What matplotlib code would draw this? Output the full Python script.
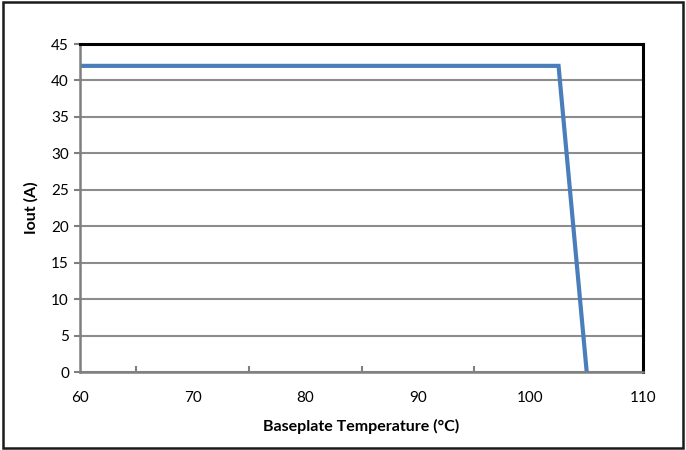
import matplotlib
matplotlib.use("Agg")
import matplotlib.pyplot as plt
from matplotlib.patches import Rectangle

# data
temp = [60, 102.5, 105]
iout = [42, 42, 0]
xticks = [60, 70, 80, 90, 100, 110]
yticks = [0, 5, 10, 15, 20, 25, 30, 35, 40, 45]

plt.rcParams['font.family'] = ['Lato', 'DejaVu Sans']

fig = plt.figure(figsize=(6.86, 4.5), dpi=100)
ax = fig.add_axes([80 / 686, 1 - 372 / 450, 563 / 686, 328 / 450])

# outer chart border
fig.patches.append(Rectangle((0.004, 0.005), 0.992, 0.99, transform=fig.transFigure,
                             fill=False, edgecolor='#1a1a1a', linewidth=1.8))

ax.set_xlim(60, 110)
ax.set_ylim(0, 45)
ax.set_xticks(xticks)
ax.set_yticks(yticks)
ax.set_xticks([65, 75, 85, 95, 105], minor=True)

ax.grid(axis='y', color='#8c8c8c', linewidth=1.5)
ax.set_axisbelow(True)

ax.plot(temp, iout, color='#4a7ebb', linewidth=3, solid_joinstyle='miter')

for s in ['top', 'right']:
    ax.spines[s].set_color('black')
    ax.spines[s].set_linewidth(2.2)
for s in ['left', 'bottom']:
    ax.spines[s].set_color('#7f7f7f')
    ax.spines[s].set_linewidth(1.8)

ax.tick_params(axis='y', direction='out', length=4, width=1.5, color='#7f7f7f',
               labelsize=11, pad=4)
ax.tick_params(axis='x', which='major', direction='in', length=0, labelsize=11, pad=14)
ax.tick_params(axis='x', which='minor', direction='in', length=4, width=1.5, color='#7f7f7f')

ax.set_xlabel('Baseplate Temperature (°C)', fontsize=11.5, fontweight='bold', labelpad=10)
ax.set_ylabel('Iout (A)', fontsize=11.5, fontweight='bold', labelpad=9)

fig.savefig('out.png', dpi=100)
